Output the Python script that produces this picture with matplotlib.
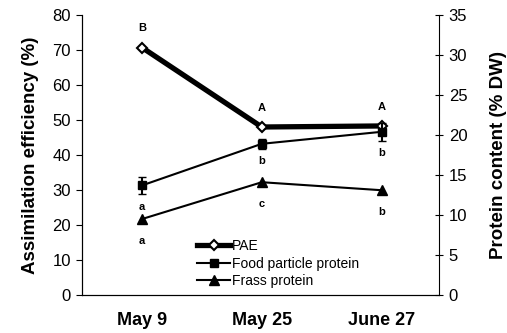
import numpy as np
import matplotlib
matplotlib.use("Agg")
from matplotlib import pyplot as plt

dates = ["May 9", "May 25", "June 27"]
pae = [70.7, 48.0, 48.3]
food_protein = [13.7, 18.9, 20.4]
food_err = [1.1, 0.6, 1.1]
frass_protein = [9.5, 14.1, 13.1]

pae_letters = ["B", "A", "A"]
food_letters = ["a", "b", "b"]
frass_letters = ["a", "c", "b"]

plt.rcParams["font.family"] = ["Liberation Sans", "DejaVu Sans"]

fig = plt.figure(figsize=(5.07, 3.33), dpi=100)
ax = fig.add_axes([0.162, 0.114, 0.704, 0.841])
ax2 = ax.twinx()

x = np.arange(len(dates))

l1, = ax.plot(x, pae, color="black", lw=3.8, marker="D", ms=5.5,
              mfc="white", mec="black", mew=1.5, label="PAE", zorder=5)
l2 = ax2.errorbar(x, food_protein, yerr=food_err, color="black", lw=1.5,
                  marker="s", ms=6, capsize=3, elinewidth=1.5,
                  label="Food particle protein")
l3, = ax2.plot(x, frass_protein, color="black", lw=1.5, marker="^", ms=7.5,
               label="Frass protein")

# significance letters
for i in range(len(x)):
    ax.annotate(pae_letters[i], (x[i], pae[i]), xytext=(0, 14),
                textcoords="offset points", ha="center", va="center",
                fontsize=8, fontweight="bold")
    ax2.annotate(food_letters[i], (x[i], food_protein[i] - food_err[i]),
                 xytext=(0, -9), textcoords="offset points", ha="center",
                 va="center", fontsize=8, fontweight="bold")
    ax2.annotate(frass_letters[i], (x[i], frass_protein[i]), xytext=(0, -16),
                 textcoords="offset points", ha="center", va="center",
                 fontsize=8, fontweight="bold")

ax.set_xlim(-0.5, 2.48)
ax.set_ylim(0, 80)
ax2.set_ylim(0, 35)
ax.set_yticks(range(0, 81, 10))
ax2.set_yticks(range(0, 36, 5))
ax.set_xticks(x)
ax.set_xticklabels(dates, fontsize=13, fontweight="bold")
ax.tick_params(axis="x", length=0, pad=12)
ax.tick_params(axis="y", labelsize=12, length=4, direction="out", pad=4)
ax2.tick_params(axis="y", labelsize=12, length=6, direction="inout", pad=4)

for a in (ax, ax2):
    a.spines["top"].set_visible(False)
ax.spines["right"].set_visible(False)

ax.set_ylabel("Assimilation efficiency (%)", fontsize=13.5, fontweight="bold",
              labelpad=10)
ax2.set_ylabel("Protein content (% DW)", fontsize=13.5, fontweight="bold",
               labelpad=16)

ax.legend([l1, l2[0], l3], ["PAE", "Food particle protein", "Frass protein"],
          loc="lower left", bbox_to_anchor=(0.322, 0.025), frameon=False,
          fontsize=10, handlelength=2.4, handletextpad=0.1, labelspacing=0.25,
          borderpad=0, borderaxespad=0)

fig.savefig("out.png", dpi=100)
